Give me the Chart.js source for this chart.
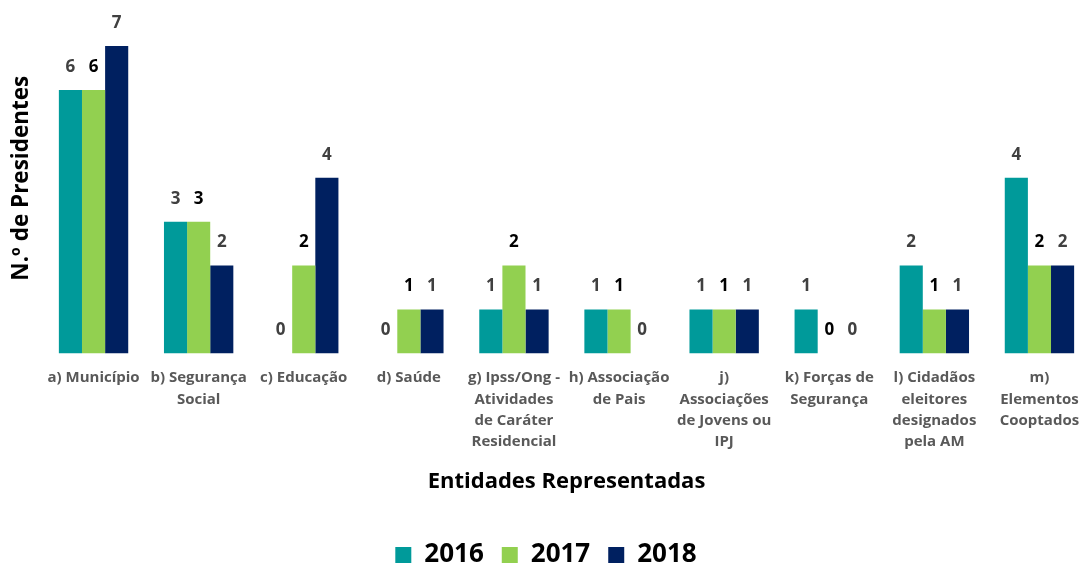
<!DOCTYPE html>
<html>
<head>
<meta charset="utf-8">
<script src="https://cdn.jsdelivr.net/npm/chart.js@4/dist/chart.umd.min.js"></script>
<style>
  html, body { margin: 0; padding: 0; background: #fff; overflow: hidden; }
  #wrap { position: relative; width: 1102px; height: 566px; }
</style>
</head>
<body>
<div id="wrap"><canvas id="chart"></canvas></div>
<script>
// Entities represented and number of presidents per year
const categories = [
  ["a) Município"],
  ["b) Segurança", "Social"],
  ["c) Educação"],
  ["d) Saúde"],
  ["g) Ipss/Ong -", "Atividades", "de Caráter", "Residencial"],
  ["h) Associação", "de Pais"],
  ["j)", "Associações", "de Jovens ou", "IPJ"],
  ["k) Forças de", "Segurança"],
  ["l) Cidadãos", "eleitores", "designados", "pela AM"],
  ["m)", "Elementos", "Cooptados"]
];
const years = ["2016", "2017", "2018"];
const values2016 = [6, 3, 0, 0, 1, 1, 1, 1, 2, 4];
const values2017 = [6, 3, 2, 1, 2, 1, 1, 0, 1, 2];
const values2018 = [7, 2, 4, 1, 1, 0, 1, 0, 1, 2];
const yAxisTitle = "N.º de Presidentes";

const FONT = "'Open Sans', 'Noto Sans', sans-serif";
const seriesColors = ["#009A9A", "#92D050", "#002060"];
const labelColors = ["#404040", "#000000", "#404040"];

// Writes each bar's value just above its top
const valueLabels = {
  id: 'valueLabels',
  afterDatasetsDraw(chart) {
    const ctx = chart.ctx;
    ctx.save();
    ctx.font = "bold 17px " + FONT;
    ctx.textAlign = 'center';
    ctx.textBaseline = 'middle';
    chart.data.datasets.forEach((ds, i) => {
      const meta = chart.getDatasetMeta(i);
      ctx.fillStyle = labelColors[i];
      meta.data.forEach((bar, j) => {
        ctx.fillText(String(ds.data[j]), bar.x, bar.y - 23);
      });
    });
    ctx.restore();
  }
};

// Vertical value-axis title, set a little above the plot's middle
const yTitle = {
  id: 'yTitle',
  afterDraw(chart) {
    const ctx = chart.ctx;
    const a = chart.chartArea;
    ctx.save();
    ctx.translate(22, a.top + (a.bottom - a.top) * 0.43);
    ctx.rotate(-Math.PI / 2);
    ctx.font = "bold 22.5px " + FONT;
    ctx.fillStyle = '#000';
    ctx.textAlign = 'center';
    ctx.textBaseline = 'middle';
    ctx.fillText(yAxisTitle, 0, 0);
    ctx.restore();
  }
};

new Chart(document.getElementById('chart'), {
  type: 'bar',
  data: {
    labels: categories,
    datasets: [values2016, values2017, values2018].map((d, i) => ({
      label: years[i],
      data: d,
      backgroundColor: seriesColors[i],
      borderWidth: 0,
      barPercentage: 1.0,
      categoryPercentage: 0.66
    }))
  },
  options: {
    responsive: true,
    maintainAspectRatio: false,
    animation: false,
    layout: { padding: { top: 46, right: 10, left: 0, bottom: -12 } },
    plugins: {
      legend: {
        position: 'bottom',
        labels: {
          boxWidth: 16,
          boxHeight: 16,
          padding: 18,
          color: '#000',
          font: { family: FONT, size: 26, weight: 'bold' }
        }
      },
      tooltip: { enabled: false }
    },
    scales: {
      x: {
        grid: { display: false, drawTicks: false },
        border: { display: false },
        ticks: {
          autoSkip: false,
          maxRotation: 0,
          minRotation: 0,
          padding: 14,
          color: '#595959',
          font: { family: FONT, size: 15, weight: 'bold', lineHeight: 1.42 }
        },
        title: {
          display: true,
          text: 'Entidades Representadas',
          color: '#000',
          padding: { top: 2, bottom: 29 },
          font: { family: FONT, size: 22, weight: 'bold' }
        }
      },
      y: {
        min: 0,
        max: 7,
        grid: { display: false, drawTicks: false },
        border: { display: false },
        ticks: { display: false },
        afterFit(scale) { scale.width = 41; }
      }
    }
  },
  plugins: [valueLabels, yTitle]
});
</script>
</body>
</html>
